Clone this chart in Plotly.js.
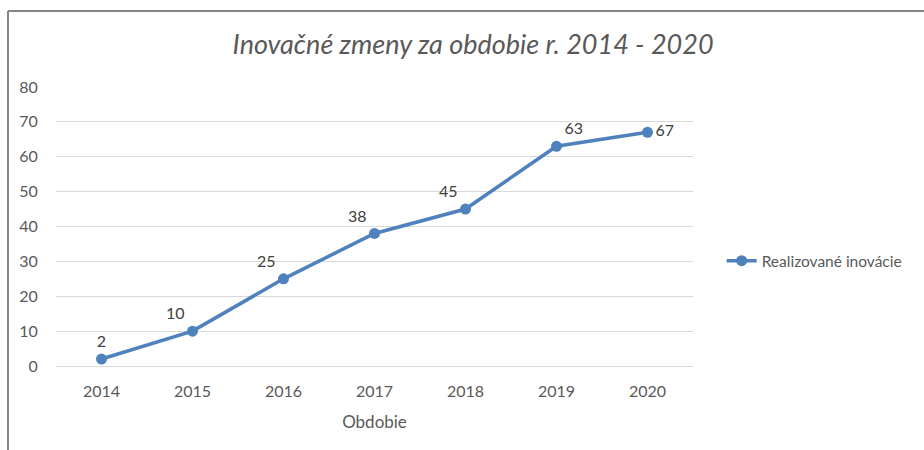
<!DOCTYPE html>
<html>
<head>
<meta charset="utf-8">
<script src="https://cdn.plot.ly/plotly-3.0.1.min.js"></script>
<style>
  body { margin: 0; background: #fff; }
  #chart { width: 924px; height: 450px; }
</style>
</head>
<body>
<div id="chart"></div>
<script>
// Data
const years = ["2014", "2015", "2016", "2017", "2018", "2019", "2020"];
const innovations = [2, 10, 25, 38, 45, 63, 67];
const labelPositions = ["top center", "top left", "top left", "top left", "top left", "top right", "middle right"];

const blue = "#4F81BD";
const grey = "#595959";

var trace = {
  x: years,
  y: innovations,
  type: "scatter",
  mode: "lines+markers+text",
  name: "Realizované inovácie",
  line: { color: blue, width: 3.5 },
  marker: { color: blue, size: 11 },
  text: innovations.map(String),
  textposition: labelPositions,
  textfont: { family: "Lato, sans-serif", size: 16, color: "#404040" },
  cliponaxis: false
};

var layout = {
  width: 924,
  height: 450,
  margin: { l: 56, r: 231, t: 87, b: 84 },
  paper_bgcolor: "#fff",
  plot_bgcolor: "#fff",
  font: { family: "Lato, sans-serif", color: grey, size: 16 },
  title: {
    text: "<i>Inovačné zmeny za obdobie r. 2014 - 2020</i>",
    font: { family: "Lato, sans-serif", size: 27, color: grey },
    x: 0.512, xanchor: "center",
    y: 0.9, yanchor: "middle"
  },
  xaxis: {
    type: "category",
    range: [-0.5, 6.5],
    automargin: false,
    showgrid: false,
    showline: false,
    zeroline: false,
    ticks: "outside",
    ticklen: 11,
    tickcolor: "rgba(0,0,0,0)",
    tickfont: { size: 16, color: grey },
    title: { text: "Obdobie", font: { size: 17, color: grey }, standoff: 16 }
  },
  yaxis: {
    range: [0, 80],
    dtick: 10,
    automargin: false,
    showgrid: true,
    gridcolor: "#d9d9d9",
    gridwidth: 1,
    zeroline: true,
    zerolinecolor: "#d9d9d9",
    zerolinewidth: 1,
    showline: false,
    ticks: "outside",
    ticklen: 14,
    tickcolor: "rgba(0,0,0,0)",
    tickfont: { size: 16, color: grey }
  },
  showlegend: true,
  legend: {
    x: 1.045, xanchor: "left",
    y: 0.376, yanchor: "middle",
    font: { size: 15.5, color: grey },
    bgcolor: "rgba(0,0,0,0)"
  },
  shapes: [
    // chart frame (left and top edges visible in the picture)
    { type: "line", xref: "paper", yref: "paper", x0: -0.0754, x1: -0.0754, y0: -0.4, y1: 1.272,
      line: { color: "#868686", width: 2 } },
    { type: "line", xref: "paper", yref: "paper", x0: -0.0754, x1: 1.5, y0: 1.272, y1: 1.272,
      line: { color: "#868686", width: 2 } }
  ]
};

Plotly.newPlot("chart", [trace], layout, { displayModeBar: false, staticPlot: true });
</script>
</body>
</html>
